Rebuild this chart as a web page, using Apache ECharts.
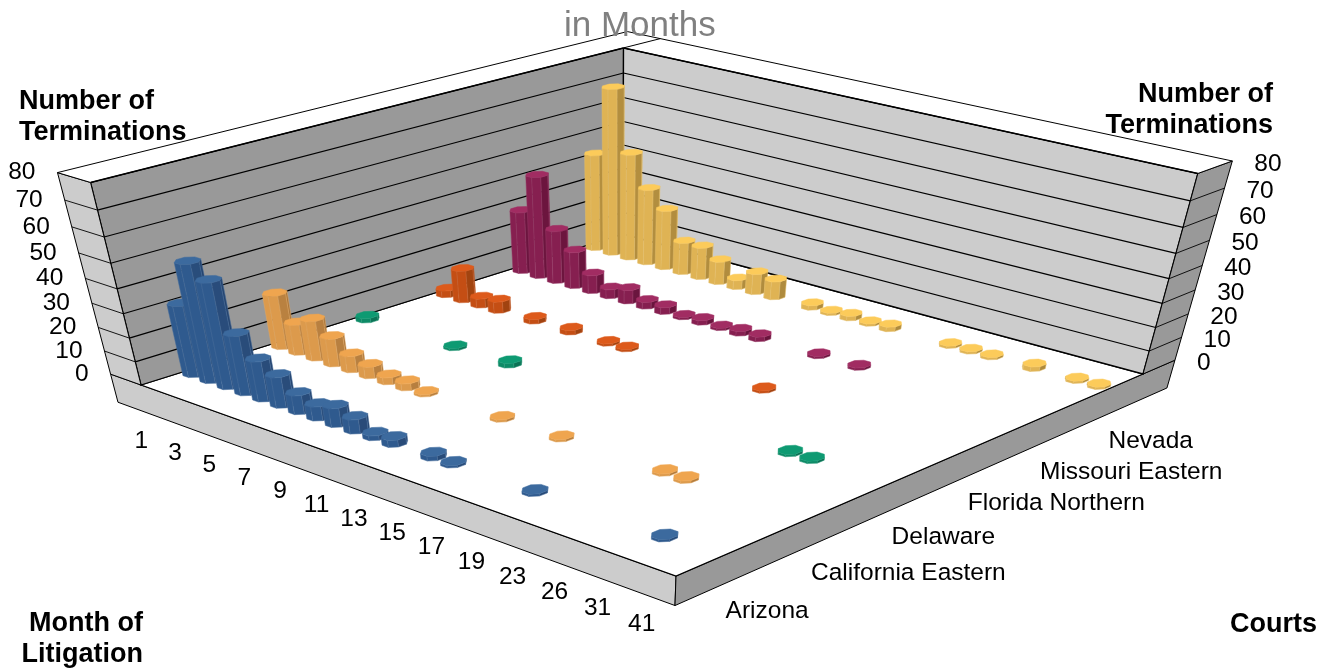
<!DOCTYPE html>
<html>
<head>
<meta charset="utf-8">
<style>
html, body { margin: 0; padding: 0; background: #fff; }
#chart { width: 1332px; height: 671px; }
</style>
<script src="https://cdn.jsdelivr.net/npm/echarts@6/dist/echarts.min.js"></script>
</head>
<body>
<div id="chart"></div>
<script>
// Categories and tick labels
const months = ['1','2','3','4','5','6','7','8','9','10','11','12','13','14','15','16','17','18','19','21','23','25','26','29','31','36','41'];
const monthLabels = ['1','','3','','5','','7','','9','','11','','13','','15','','17','','19','','23','','26','','31','','41'];
const courts = ['Arizona','California Eastern','Delaware','Florida Northern','Missouri Eastern','Nevada'];
const zTicks = [0,10,20,30,40,50,60,70,80];

// Terminations per month, one list per court
const arizona = [30,49,44,25,17,13,8,6,8,6,2,3,null,2,1,null,null,null,1,null,null,null,null,null,1,null,null];
const californiaEastern = [23,13,17,12,7,5,3,3,1,null,null,null,1,null,null,1,null,null,null,null,1,1,null,null,null,null,null];
const delaware = [2,null,null,null,null,1,null,null,2,null,null,null,null,null,null,null,null,null,null,null,null,null,1,1,null,null,null];
const floridaNorthern = [3,14,4,5,null,2,null,2,null,1,1,null,null,null,null,null,null,1,null,null,null,null,null,null,null,null,null];
const missouriEastern = [27,44,23,16,8,4,6,3,3,1,2,1,2,2,null,null,1,null,1,null,null,null,null,null,null,null,null];
const nevada = [42,71,46,33,26,14,14,10,4,9,8,null,2,1,2,1,2,null,null,1,1,1,null,2,null,1,1];

const courtValues = [arizona, californiaEastern, delaware, floridaNorthern, missouriEastern, nevada];
const palette = [
    { top: '#3c6a9e', side: '#2f5a8e', dark: '#264570' },
    { top: '#efa54f', side: '#dc9a4c', dark: '#a8743a' },
    { top: '#0e9a72', side: '#0d8a66', dark: '#0a6a4f' },
    { top: '#dd5a1b', side: '#c44e14', dark: '#96400f' },
    { top: '#a12c62', side: '#861f50', dark: '#641239' },
    { top: '#fccb5a', side: '#dfb354', dark: '#a8853a' }
];

const zMax = 80;
const wallU = 0.067, wallV = 0.082, plinthZ = -12.5;

// Screen anchors of the box: floor corners and wall tops
const floorPts = [[0,0,141,385],[1,0,676,576],[1,1,1143,374],[0,1,623,234]];
const topPts = [[0,0,91,183],[0,1,623,47],[1,1,1198,174]];

function solve(A, b) {
    const n = b.length;
    const M = A.map((r, i) => r.concat(b[i]));
    for (let i = 0; i < n; i++) {
        let p = i;
        for (let r = i + 1; r < n; r++) { if (Math.abs(M[r][i]) > Math.abs(M[p][i])) p = r; }
        [M[i], M[p]] = [M[p], M[i]];
        for (let r = 0; r < n; r++) {
            if (r === i) continue;
            const f = M[r][i] / M[i][i];
            for (let c = i; c <= n; c++) M[r][c] -= f * M[i][c];
        }
    }
    return M.map((r, i) => r[n] / r[i]);
}

// floor homography
let A = [], b = [];
floorPts.forEach(([u, v, x, y]) => {
    A.push([u, v, 1, 0, 0, 0, -x * u, -x * v]); b.push(x);
    A.push([0, 0, 0, u, v, 1, -y * u, -y * v]); b.push(y);
});
const h = solve(A, b);

// height column of the projection, least squares on the wall tops
let rows = [], rhs = [];
topPts.forEach(([u, v, x, y]) => {
    const w = h[6] * u + h[7] * v + 1;
    rows.push([1, 0, -x]); rhs.push(x * w - (h[0] * u + h[1] * v + h[2]));
    rows.push([0, 1, -y]); rhs.push(y * w - (h[3] * u + h[4] * v + h[5]));
});
const AtA = [0,1,2].map(i => [0,1,2].map(j => rows.reduce((s, r) => s + r[i] * r[j], 0)));
const Atb = [0,1,2].map(i => rows.reduce((s, r, k) => s + r[i] * rhs[k], 0));
const zc = solve(AtA, Atb);

function project(u, v, z) {
    const t = z / zMax;
    const w = h[6] * u + h[7] * v + 1 + zc[2] * t;
    return [(h[0] * u + h[1] * v + h[2] + zc[0] * t) / w, (h[3] * u + h[4] * v + h[5] + zc[1] * t) / w];
}
const monthU = i => (i + 0.5) / months.length;
const courtV = k => (k + 0.5) / courts.length;

function poly(points, fill, stroke, lineWidth) {
    return { type: 'polygon', shape: { points: points }, style: { fill: fill, stroke: stroke, lineWidth: lineWidth || 1 } };
}
function line(p, q, lineWidth) {
    return { type: 'line', shape: { x1: p[0], y1: p[1], x2: q[0], y2: q[1] }, style: { stroke: '#000', lineWidth: lineWidth || 1 } };
}

function renderFrame() {
    const P = project, ch = [];
    const tu = -wallU, tv = 1 + wallV;
    // plinth
    ch.push(poly([P(tu,0,0), P(1,0,0), P(1,0,plinthZ), P(tu,0,plinthZ)], '#cccccc', '#000'));
    ch.push(poly([P(1,0,0), P(1,tv,0), P(1,tv,plinthZ), P(1,0,plinthZ)], '#999999', '#000'));
    // floor
    ch.push(poly([P(0,0,0), P(1,0,0), P(1,1,0), P(0,1,0)], '#ffffff', '#000', 1.3));
    // walls
    ch.push(poly([P(0,0,0), P(0,1,0), P(0,1,zMax), P(0,0,zMax)], '#999999', '#000', 1.3));
    ch.push(poly([P(0,1,0), P(1,1,0), P(1,1,zMax), P(0,1,zMax)], '#cccccc', '#000', 1.3));
    ch.push(poly([P(tu,0,0), P(0,0,0), P(0,0,zMax), P(tu,0,zMax)], '#cccccc', '#000'));
    ch.push(poly([P(1,1,0), P(1,tv,0), P(1,tv,zMax), P(1,1,zMax)], '#999999', '#000'));
    // wall tops
    ch.push(poly([P(tu,0,zMax), P(0,0,zMax), P(0,1,zMax), P(1,1,zMax), P(1,tv,zMax), P(tu,tv,zMax)], '#ffffff', '#000'));
    ch.push(line(P(0,1,zMax), P(0,tv,zMax)));
    ch.push(line(P(0,0,zMax), P(0,1,zMax), 1.5));
    ch.push(line(P(0,1,zMax), P(1,1,zMax), 1.5));
    // grid lines
    zTicks.forEach(z => {
        if (z === 0 || z === zMax) return;
        ch.push(line(P(0,0,z), P(0,1,z), 1.2));
        ch.push(line(P(0,1,z), P(1,1,z), 1.2));
        ch.push(line(P(tu,0,z), P(0,0,z), 0.9));
        ch.push(line(P(1,1,z), P(1,tv,z), 0.9));
    });
    return { type: 'group', children: ch };
}

function renderBar(k) {
    const ru = 0.43, rv = 0.115, n = 8;
    const c = palette[k];
    return function (params, api) {
        const i = api.value(0), val = api.value(1);
        const u0 = monthU(i), v0 = courtV(k);
        const du = ru / months.length, dv = rv / courts.length;
        const base = [], top = [];
        for (let a = 0; a < n; a++) {
            const t = (a + 0.5) * 2 * Math.PI / n;
            const u = u0 + du * Math.cos(t), v = v0 + dv * Math.sin(t);
            base.push(project(u, v, 0));
            top.push(project(u, v, val));
        }
        const cx = project(u0, v0, 0)[0];
        const span = Math.max(...base.map(p => Math.abs(p[0] - cx)));
        const ch = [];
        for (let a = 0; a < n; a++) {
            const e = (a + 1) % n;
            const q = [base[a], base[e], top[e], top[a]];
            let area = 0;
            q.forEach((p, m) => { const o = q[(m + 1) % 4]; area += p[0] * o[1] - o[0] * p[1]; });
            if (area >= 0) continue;
            const mid = ((base[a][0] + base[e][0]) / 2 - cx) / span;
            const shade = Math.min(1, Math.max(0, (mid - 0.1) / 0.7));
            const fill = echarts.color.lerp(shade, [c.side, c.dark]);
            ch.push(poly(q, fill, echarts.color.lift(c.side, 0.12), 0.5));
        }
        ch.push(poly(top, c.top, c.top, 0.5));
        return { type: 'group', children: ch };
    };
}

function lerp(a, b, t) { return a + (b - a) * t; }
const tickFont = 24.5;

function text(str, x, y, align) {
    return { type: 'text', x: x, y: y, style: { text: str, fontFamily: 'Liberation Sans', fontSize: tickFont, fill: '#000', align: align, verticalAlign: 'middle' } };
}

function renderLabels() {
    const ch = [];
    zTicks.forEach(z => {
        const l = project(-wallU, 0, z);
        ch.push(text(String(z), l[0] - 22, l[1], 'right'));
        const r = project(1, 1 + wallV, z);
        ch.push(text(String(z), r[0] + 22, r[1] + 3, 'left'));
    });
    monthLabels.forEach((m, i) => {
        if (!m) return;
        const t = i / (months.length - 1);
        const p = project(monthU(i), 0, plinthZ);
        ch.push(text(m, p[0] + lerp(-15, -22, t), p[1] + lerp(24.5, 23, t), 'center'));
    });
    courts.forEach((c, k) => {
        const t = k / (courts.length - 1);
        const p = project(1, courtV(k), plinthZ);
        ch.push(text(c, p[0] + 6, p[1] + lerp(25, 25, t), 'left'));
    });
    return { type: 'group', children: ch };
}

const boldTitle = { fontFamily: 'Liberation Sans', fontSize: 27, fontWeight: 'bold', lineHeight: 31, color: '#000' };

const series = [{ type: 'custom', name: 'frame', coordinateSystem: 'none', data: [0], renderItem: renderFrame, silent: true }];
for (let k = courts.length - 1; k >= 0; k--) {
    series.push({
        type: 'custom',
        name: courts[k],
        coordinateSystem: 'none',
        renderItem: renderBar(k),
        data: courtValues[k].map((v, i) => [i, v]).filter(d => d[1] !== null),
        silent: true
    });
}
series.push({ type: 'custom', name: 'labels', coordinateSystem: 'none', data: [0], renderItem: renderLabels, silent: true });

const chart = echarts.init(document.getElementById('chart'));
chart.setOption({
    animation: false,
    backgroundColor: '#fff',
    title: [
        { text: 'in Months', left: 564, top: 9, padding: 0, textStyle: { fontFamily: 'Liberation Sans', fontSize: 35, fontWeight: 'normal', color: '#808080' } },
        { text: 'Number of\nTerminations', left: 19, top: 86, padding: 0, textStyle: boldTitle },
        { text: 'Number of\nTerminations', left: 1273, top: 79, padding: 0, textAlign: 'right', textStyle: boldTitle },
        { text: 'Month of\nLitigation', left: 143, top: 608, padding: 0, textAlign: 'right', textStyle: boldTitle },
        { text: 'Courts', left: 1230, top: 609, padding: 0, textStyle: boldTitle }
    ],
    series: series
});
</script>
</body>
</html>
